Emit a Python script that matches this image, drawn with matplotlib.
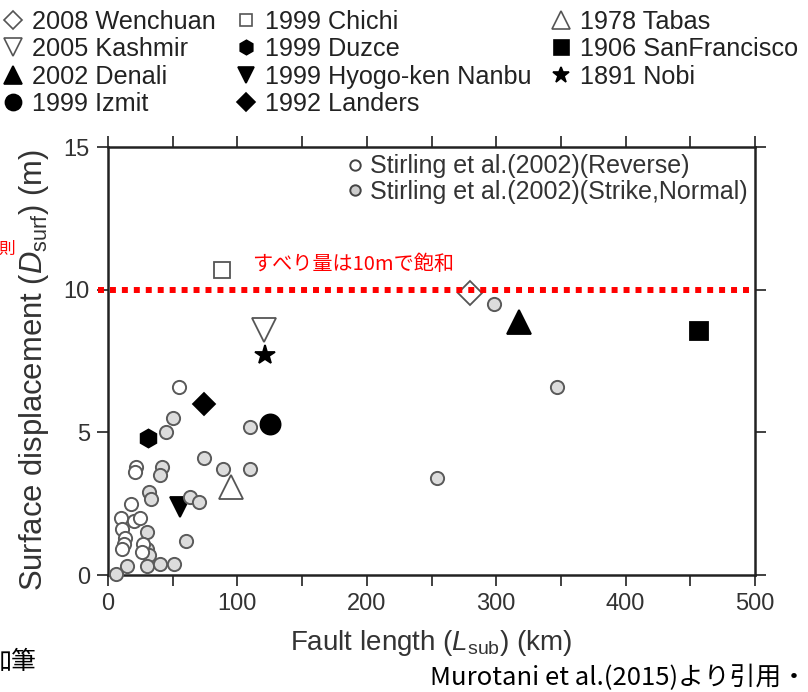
import matplotlib
matplotlib.use("Agg")
import matplotlib.pyplot as plt
from matplotlib.lines import Line2D

plt.rcParams['font.family'] = ['Liberation Sans', 'DejaVu Sans']
plt.rcParams['mathtext.fontset'] = 'custom'
plt.rcParams['mathtext.rm'] = 'Liberation Sans'
plt.rcParams['mathtext.it'] = 'Liberation Sans:italic'

# ---------------- data ----------------
# Stirling et al. (2002) reverse events (open circles)
rev_x = [55, 22, 21, 17.5, 10, 20, 25, 11, 13, 12, 11, 27, 26]
rev_y = [6.6, 3.8, 3.6, 2.5, 2.0, 1.9, 2.0, 1.6, 1.3, 1.1, 0.9, 1.1, 0.8]
# Stirling et al. (2002) strike-slip / normal events (grey circles)
ss_x = [50, 45, 110, 74, 42, 40, 89, 110, 32, 33, 63, 70, 30, 30, 32, 60,
        15, 6, 30, 40, 51, 298, 347, 254]
ss_y = [5.5, 5.0, 5.2, 4.1, 3.8, 3.5, 3.7, 3.7, 2.9, 2.65, 2.75, 2.55, 1.5,
        0.9, 0.7, 1.2, 0.3, 0.05, 0.3, 0.4, 0.4, 9.5, 6.6, 3.4]

# named earthquakes
eq_names = ["2008 Wenchuan", "2005 Kashmir", "2002 Denali", "1999 Izmit",
            "1999 Chichi", "1999 Duzce", "1999 Hyogo-ken Nanbu", "1992 Landers",
            "1978 Tabas", "1906 SanFrancisco", "1891 Nobi"]
eq_x = [280, 120.5, 318, 125, 88, 31, 56, 74, 95, 457, 121]
eq_y = [9.9, 8.6, 8.85, 5.3, 10.7, 4.8, 2.4, 6.0, 3.1, 8.55, 7.7]
eq_marker = ['D', 'v', '^', 'o', 's', 'h', 'v', 'D', '^', 's', '*']
eq_filled = [False, False, True, True, False, True, True, True, False, True, True]
eq_size = [12, 17, 17, 14.5, 11.5, 13, 14, 11.5, 17, 13.5, 15]

saturation = 10.0
xticks = [0, 100, 200, 300, 400, 500]
yticks = [0, 5, 10, 15]

# ---------------- figure ----------------
fig = plt.figure(figsize=(8.08, 6.92), dpi=100)
ax = fig.add_axes([108 / 808, 1 - 575 / 692, (755 - 108) / 808, (575 - 147) / 692])

handles = []
for n, x, y, m, f, s in zip(eq_names, eq_x, eq_y, eq_marker, eq_filled, eq_size):
    fc = 'black' if f else 'white'
    ec = 'black' if f else '#555555'
    ax.plot([x], [y], linestyle='none', marker=m, ms=s, mfc=fc, mec=ec,
            mew=1.3, zorder=3, clip_on=False)
    handles.append(Line2D([], [], linestyle='none', marker=m, ms=s * 0.8,
                          mfc=fc, mec=ec, mew=1.2, label=n))

ax.plot(ss_x, ss_y, linestyle='none', marker='o', ms=9.5, mfc='#dcdcdc',
        mec='#5a5a5a', mew=1.4, zorder=4, clip_on=False)
ax.plot(rev_x, rev_y, linestyle='none', marker='o', ms=9.5, mfc='white',
        mec='#5a5a5a', mew=1.4, zorder=4, clip_on=False)

ax.plot([-8, 500], [saturation, saturation], color='#ff0000', lw=4.3,
        linestyle=(0, (1, 1)), dash_capstyle='butt', clip_on=False, zorder=6)

ax.set_xlim(0, 500)
ax.set_ylim(0, 15)
ax.set_xticks(xticks)
ax.set_xticks([50, 150, 250, 350, 450], minor=True)
ax.set_yticks(yticks)
ax.tick_params(axis='both', which='both', direction='out', length=8, width=1.3,
               top=True, right=True, labelsize=17, colors='#333333', pad=5)
for sp in ax.spines.values():
    sp.set_linewidth(1.8)
    sp.set_color('#222222')

ax.set_xlabel(r"Fault length ($\mathit{L}_{\rm sub}$) (km)", fontsize=20,
              color='#333333', labelpad=9)
ax.set_ylabel(r"Surface displacement ($\mathit{D}_{\rm surf}$) (m)", fontsize=22.3,
              color='#333333')
ax.yaxis.set_label_coords(-0.088, 0.48)

# Stirling legend inside axes
st_h = [Line2D([], [], linestyle='none', marker='o', ms=7.5, mfc='white',
               mec='#444444', mew=1.4, label='Stirling et al.(2002)(Reverse)'),
        Line2D([], [], linestyle='none', marker='o', ms=7.5, mfc='#cccccc',
               mec='#444444', mew=1.4, label='Stirling et al.(2002)(Strike,Normal)')]
leg2 = ax.legend(handles=st_h, loc='upper right', bbox_to_anchor=(1.0, 1.0),
                 frameon=False, fontsize=18, handlelength=0.6, handletextpad=0.3,
                 labelspacing=0.05, borderaxespad=0.1, borderpad=0.2)
for t in leg2.get_texts():
    t.set_color('#333333')

# top legend of named events
leg = fig.legend(handles=handles, loc='upper left',
                 bbox_to_anchor=(0.0, 1 - 10 / 692), ncol=3, frameon=False,
                 fontsize=18.2, handlelength=1.0, handletextpad=0.25,
                 columnspacing=0.7, labelspacing=0.13, borderaxespad=0.0,
                 borderpad=0.0)
for t in leg.get_texts():
    t.set_color('#222222')

# annotations
ax.text(111, 10.88, "すべり量は10mで飽和", color='#ff0000', fontsize=14.5,
        family=['Noto Sans CJK JP', 'DejaVu Sans'], ha='left', va='center')
fig.text(-2 / 808, 1 - 249 / 692, "則", color='#ff0000', fontsize=12,
         family=['Noto Sans CJK JP', 'DejaVu Sans'], ha='left', va='center')
fig.text(-14 / 808, 1 - 662 / 692, "加筆", color='black', fontsize=18,
         family=['Noto Sans CJK JP', 'DejaVu Sans'], ha='left', va='center')
fig.text(430 / 808, 1 - 678 / 692, "Murotani et al.(2015)より引用・", color='black',
         fontsize=18.5, family=['Noto Sans CJK JP', 'DejaVu Sans'], ha='left',
         va='center')

fig.savefig("out.png", dpi=100)
